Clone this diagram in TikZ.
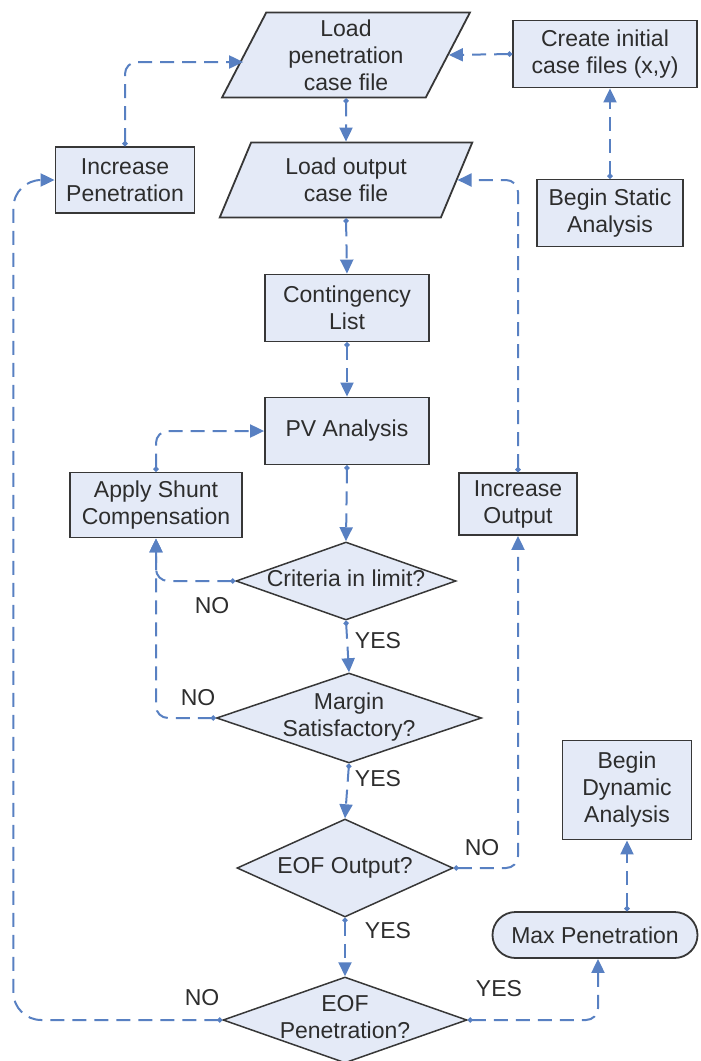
\documentclass[tikz,border=0pt]{standalone}
\usepackage{fontspec}
\setmainfont{Liberation Sans}
\usetikzlibrary{shapes.geometric,arrows.meta}
\definecolor{boxfill}{RGB}{228,234,247}
\definecolor{boxline}{RGB}{55,55,55}
\definecolor{linkblue}{RGB}{88,128,194}
\definecolor{inkgray}{RGB}{45,45,45}
\newcommand{\dtext}[1]{\makebox[0pt]{\begin{tabular}{@{}c@{}}#1\end{tabular}}}
\tikzset{
  box/.style={rectangle, draw=boxline, fill=boxfill, line width=1.8pt, align=center, inner sep=2pt},
  para/.style={trapezium, trapezium left angle=66, trapezium right angle=114, trapezium stretches=true,
    draw=boxline, fill=boxfill, line width=1.8pt, align=center, inner sep=1pt},
  decision/.style={diamond, draw=boxline, fill=boxfill, line width=1.5pt, inner sep=0pt},
  link/.style={draw=linkblue, line width=2pt, dash pattern=on 14pt off 8pt, rounded corners=12pt,
    {Circle[length=5pt]}-{Triangle[length=14pt,width=13pt]}},
  tag/.style={inner sep=0pt, text=inkgray}
}

\begin{document}
\begin{tikzpicture}[x=1pt, y=-1pt, font=\fontsize{23}{27}\selectfont, text=inkgray]
			%%%%% START %%%%%
			\useasboundingbox (0,0) rectangle (701,1061);
			
			\node[para, minimum width=248, minimum height=85] (lpen) at (346,55) {Load\\penetration\\case file};
			\node[para, minimum width=253, minimum height=75] (lout) at (346,180) {Load output\\case file};
			\node[box, minimum width=184, minimum height=67] (cif) at (605,54) {Create initial\\case files (x,y)};
			\node[box, minimum width=146, minimum height=67] (bsa) at (610,213) {Begin Static\\Analysis};
			\node[box, minimum width=139, minimum height=66] (ipen) at (125,180) {Increase\\Penetration};
			
			\node[box, minimum width=164, minimum height=67] (clist) at (347,308) {Contingency\\List};
			\node[box, minimum width=164, minimum height=67] (pva) at (347,431) {PV Analysis};
			\node[box, minimum width=172, minimum height=65] (shunt) at (156,505) {Apply Shunt\\Compensation};
			\node[box, minimum width=118, minimum height=62] (iout) at (518,504) {Increase\\Output};
			
			\node[decision, minimum width=220, minimum height=78] (crit) at (346,581) {\dtext{Criteria in limit?}};
			\node[decision, minimum width=265, minimum height=90] (marg) at (349,718) {\dtext{Margin\\Satisfactory?}};
			\node[decision, minimum width=216, minimum height=98] (eout) at (345,868) {\dtext{EOF Output?}};
			\node[decision, minimum width=244, minimum height=86] (epen) at (345,1020) {\dtext{EOF\\Penetration?}};
			
			\node[box, rounded corners=23pt, minimum width=205, minimum height=46] (maxp) at (595,935) {Max Penetration};
			\node[box, minimum width=129, minimum height=99] (bda) at (627,790) {Begin\\Dynamic\\Analysis};
			
			% main line
			\draw[link] (lpen.south) -- (lout.north);
			\draw[link] (lout.south) -- (clist.north);
			\draw[link] (clist.south) -- (pva.north);
			\draw[link] (pva.south) -- (crit.north);
			\draw[link] (crit.south) -- (marg.north);
			\draw[link] (marg.south) -- (eout.north);
			\draw[link] (eout.south) -- (epen.north);
			
			% side loops
			\draw[link] (cif.west) -- (lpen.east);
			\draw[link] (bsa.north) -- (bsa.north |- cif.south);
			\draw[link] (ipen.north) |- ([yshift=-7pt]lpen.west);
			\draw[link] (shunt.north) |- (pva.west);
			\draw[link] (crit.west) -| (shunt.south);
			\draw[link] (marg.west) -| (shunt.south);
			\draw[link] (eout.east) -| (iout.south);
			\draw[link] (iout.north) |- (lout.east);
			\draw[link, rounded corners=28pt] (epen.west) -- ++(-209,0) |- (ipen.west);
			\draw[link] (epen.east) -| ([xshift=3pt]maxp.south);
			\draw[link] (maxp.north -| bda.south) -- (bda.south);
			
			\node[tag] (no1) at (212,606) {NO};
			\node[tag] (no2) at (198,698) {NO};
			\node[tag] (no3) at (482,848) {NO};
			\node[tag] (no4) at (202,998) {NO};
			\node[tag] (yes1) at (378,641) {YES};
			\node[tag] (yes2) at (378,779) {YES};
			\node[tag] (yes3) at (388,931) {YES};
			\node[tag] (yes4) at (499,989) {YES};
			
			%%%%% END %%%%%
\end{tikzpicture}
\end{document}
